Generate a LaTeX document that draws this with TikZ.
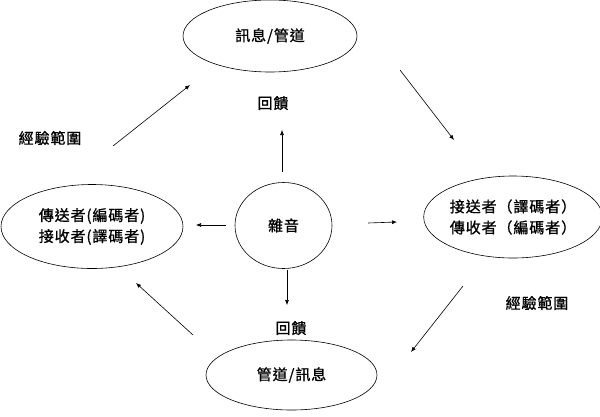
\documentclass[tikz,border=0pt]{standalone}
\usepackage{fontspec}
\usetikzlibrary{shapes.geometric,arrows.meta}
\newfontfamily\cjk[LetterSpace=6,FakeBold=1]{Noto Sans CJK TC}
\begin{document}
\begin{tikzpicture}[x=1pt,y=-1pt,
  oval/.style={draw,ellipse,line width=0.6pt,inner sep=0pt,align=center,font=\cjk\fontsize{15}{21}\selectfont},
  lbl/.style={inner sep=0pt,font=\cjk\fontsize{15}{21}\selectfont},
  arr/.style={line width=0.6pt,-{Latex[length=5pt,width=4pt]}}]
\useasboundingbox (0,0) rectangle (600,416);
\node[oval,minimum width=174pt,minimum height=72pt] (top) at (270,36) {訊息/管道};
\node[oval,minimum width=182pt,minimum height=84pt] (left) at (92,226.5) {傳送者(編碼者)\\接收者(譯碼者)};
\node[oval,minimum width=97pt,minimum height=86pt] (noise) at (283.5,225.5) {雜音};
\node[oval,minimum width=170pt,minimum height=82pt] (right) at (513,217) {接送者（譯碼者）\\傳收者（編碼者）};
\node[oval,minimum width=171pt,minimum height=70pt] (bottom) at (291.5,375) {管道/訊息};
\node[lbl] (fb1) at (273,103) {回饋};
\node[lbl] (fb2) at (291,328) {回饋};
\node[lbl] (ex1) at (50,138) {經驗範圍};
\node[lbl] (ex2) at (537,303) {經驗範圍};
\coordinate (a1s) at (113,146); \coordinate (a1e) at (190,85);
\coordinate (a2s) at (400,70);  \coordinate (a2e) at (454,140);
\coordinate (a3s) at (282,172); \coordinate (a3e) at (282,130);
\coordinate (a4s) at (226,225); \coordinate (a4e) at (196,225);
\coordinate (a5s) at (368,223); \coordinate (a5e) at (397,222);
\coordinate (a6s) at (287,270); \coordinate (a6e) at (287,305);
\coordinate (a7s) at (463,286); \coordinate (a7e) at (411,352);
\coordinate (a8s) at (193,335); \coordinate (a8e) at (136,283);
\draw[arr] (a1s) -- (a1e);
\draw[arr] (a2s) -- (a2e);
\draw[arr] (a3s) -- (a3e);
\draw[arr] (a4s) -- (a4e);
\draw[arr] (a5s) -- (a5e);
\draw[arr] (a6s) -- (a6e);
\draw[arr] (a7s) -- (a7e);
\draw[arr] (a8s) -- (a8e);
\end{tikzpicture}
\end{document}
